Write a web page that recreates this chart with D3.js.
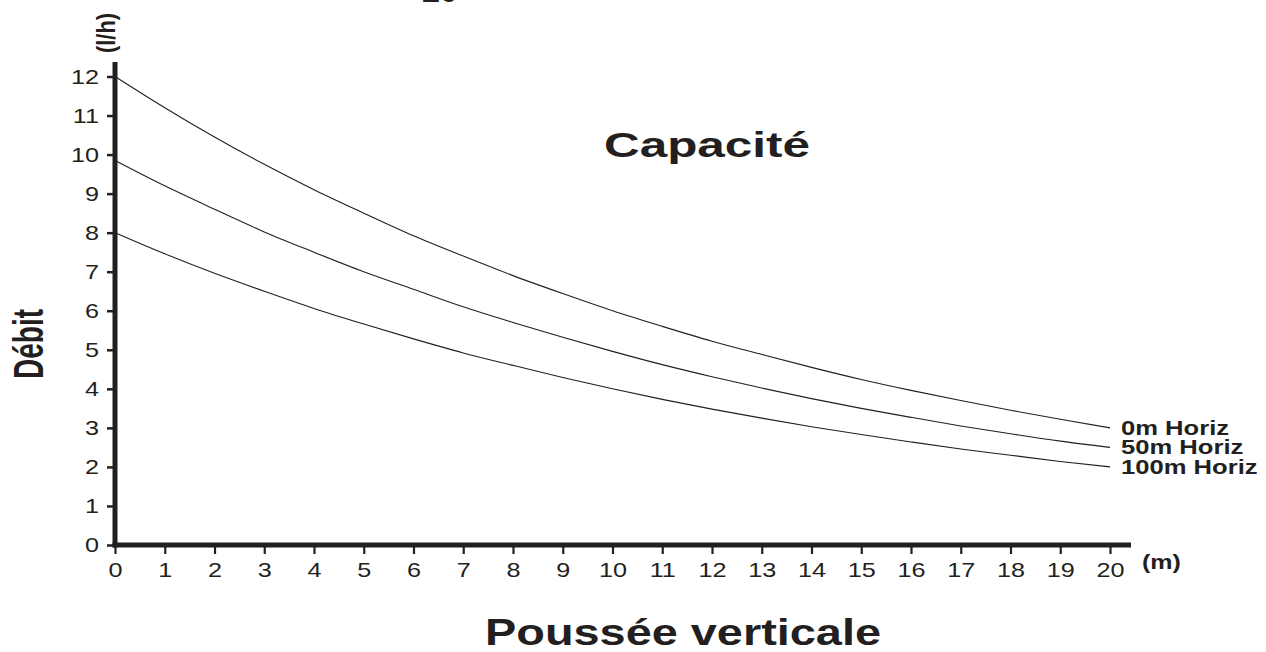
<!DOCTYPE html>
<html lang="fr">
<head>
<meta charset="UTF-8">
<title>Capacité</title>
<script src="https://d3js.org/d3.v7.min.js"></script>
<style>
  body { margin: 0; background: #fff; }
  text { font-family: Arial, "Liberation Sans", sans-serif; fill: #231f20; }
</style>
</head>
<body>
<svg width="1266" height="652"></svg>
<script>
// données
const hauteurs = [0, 1, 2, 3, 4, 5, 6, 7, 8, 9, 10, 11, 12, 13, 14, 15, 16, 17, 18, 19, 20];
const debit0m = [12, 11.2, 10.45, 9.75, 9.1, 8.5, 7.92, 7.4, 6.9, 6.44, 6.0, 5.6, 5.22, 4.88, 4.55, 4.24, 3.96, 3.7, 3.45, 3.22, 3.0];
const debit50m = [9.85, 9.2, 8.6, 8.02, 7.5, 7.0, 6.55, 6.1, 5.7, 5.32, 4.96, 4.62, 4.31, 4.02, 3.75, 3.5, 3.27, 3.05, 2.85, 2.66, 2.5];
const debit100m = [8.0, 7.46, 6.96, 6.5, 6.06, 5.66, 5.28, 4.92, 4.6, 4.29, 4.0, 3.73, 3.48, 3.25, 3.03, 2.83, 2.64, 2.46, 2.3, 2.14, 2.0];
const series = ["0m Horiz", "50m Horiz", "100m Horiz"];
const yTicks = [0, 1, 2, 3, 4, 5, 6, 7, 8, 9, 10, 11, 12];
const xTicks = hauteurs;

const svg = d3.select('svg');
const ink = '#231f20';

const x = d3.scaleLinear().domain([0, 20]).range([115, 1110]);
const y = d3.scaleLinear().domain([0, 12]).range([545, 76.5]);

// élargir le texte horizontalement (l'original est étiré)
function stretch(sel, f) {
  sel.each(function () {
    const w = this.getComputedTextLength();
    d3.select(this).attr('textLength', w * f).attr('lengthAdjust', 'spacingAndGlyphs');
  });
}

// axe vertical
const gY = svg.append('g')
  .attr('transform', `translate(${x(0)},0)`)
  .call(d3.axisLeft(y).tickValues(yTicks).tickSize(8).tickPadding(8));
gY.select('.domain').remove();
gY.selectAll('line').attr('stroke', ink).attr('stroke-width', 2.5);
gY.selectAll('text').attr('font-size', 21).attr('font-family', null).call(stretch, 1.2);

// axe horizontal
const gX = svg.append('g')
  .attr('transform', `translate(0,${y(0) + 2})`)
  .call(d3.axisBottom(x).tickValues(xTicks).tickSize(7).tickPadding(8));
gX.select('.domain').remove();
gX.selectAll('line').attr('stroke', ink).attr('stroke-width', 2.2);
gX.selectAll('text').attr('font-size', 21).attr('font-family', null).call(stretch, 1.2);

// traits épais des axes
svg.append('line')
  .attr('x1', x(0)).attr('x2', x(0))
  .attr('y1', 62).attr('y2', y(0) + 2.5)
  .attr('stroke', ink).attr('stroke-width', 5);
svg.append('line')
  .attr('x1', x(0) - 2.5).attr('x2', 1131)
  .attr('y1', y(0)).attr('y2', y(0))
  .attr('stroke', ink).attr('stroke-width', 5);

// courbes
const line = d3.line()
  .x((d, i) => x(hauteurs[i]))
  .y(d => y(d))
  .curve(d3.curveMonotoneX);

[debit0m, debit50m, debit100m].forEach((vals, k) => {
  svg.append('path')
    .datum(vals)
    .attr('d', line)
    .attr('fill', 'none')
    .attr('stroke', ink)
    .attr('stroke-width', 1.1);

  svg.append('text')
    .attr('x', x(20) + 11)
    .attr('y', y(vals[vals.length - 1]) + 7)
    .attr('font-size', 20)
    .attr('font-weight', 'bold')
    .text(series[k])
    .call(stretch, 1.28);
});

// titres
svg.append('text')
  .attr('x', 707).attr('y', 157)
  .attr('text-anchor', 'middle')
  .attr('font-size', 35).attr('font-weight', 'bold')
  .attr('textLength', 206).attr('lengthAdjust', 'spacingAndGlyphs')
  .text('Capacité');

svg.append('text')
  .attr('x', 683).attr('y', 645)
  .attr('text-anchor', 'middle')
  .attr('font-size', 37).attr('font-weight', 'bold')
  .attr('textLength', 396).attr('lengthAdjust', 'spacingAndGlyphs')
  .text('Poussée verticale');

svg.append('text')
  .attr('x', 422).attr('y', 2)
  .attr('font-size', 34).attr('font-weight', 'bold')
  .attr('textLength', 36).attr('lengthAdjust', 'spacingAndGlyphs')
  .text('20');

svg.append('text')
  .attr('x', 1142).attr('y', 569)
  .attr('font-size', 20).attr('font-weight', 'bold')
  .text('(m)')
  .call(stretch, 1.25);

svg.append('text')
  .attr('transform', 'translate(43,344) rotate(-90)')
  .attr('text-anchor', 'middle')
  .attr('font-size', 42).attr('font-weight', 'bold')
  .attr('textLength', 70).attr('lengthAdjust', 'spacingAndGlyphs')
  .text('Débit');

svg.append('text')
  .attr('transform', 'translate(115,33) rotate(-90)')
  .attr('text-anchor', 'middle')
  .attr('font-size', 26).attr('font-weight', 'bold')
  .attr('textLength', 40).attr('lengthAdjust', 'spacingAndGlyphs')
  .text('(l/h)');
</script>
</body>
</html>
